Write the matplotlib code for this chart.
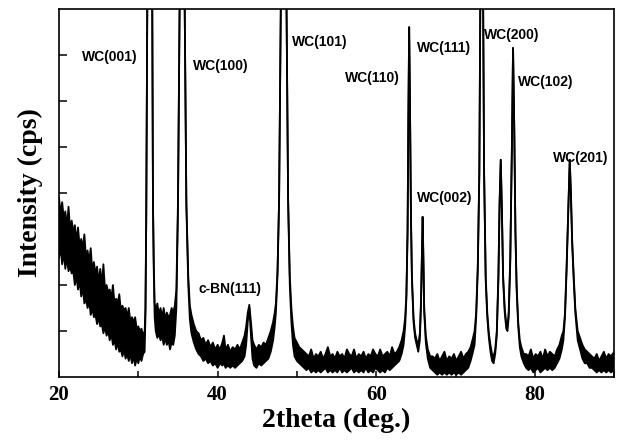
import numpy as np
import matplotlib
matplotlib.use('Agg')
import matplotlib.pyplot as plt


# XRD pattern, in segments (2theta, upper / lower edge of the noisy trace)
# intensity in arbitrary units, axis runs 0..8
theta_a = [20.0, 20.2, 20.4, 20.6, 20.8, 21.0, 21.2, 21.4, 21.6, 21.8,
           22.0, 22.2, 22.4, 22.6, 22.8, 23.0, 23.2, 23.4, 23.6, 23.8,
           24.0, 24.2, 24.4, 24.6, 24.8, 25.0, 25.2, 25.4, 25.6, 25.8,
           26.0, 26.2, 26.4, 26.6, 26.8, 27.0, 27.2, 27.4, 27.6, 27.8,
           28.0, 28.2, 28.4, 28.6, 28.8, 29.0, 29.2, 29.4, 29.6, 29.8,
           30.0, 30.2, 30.4, 30.6, 30.8]
hi_a = [3.9, 3.55, 3.8, 3.45, 3.6, 3.25, 3.7, 3.2, 3.4, 3.15,
        3.3, 2.95, 3.25, 2.85, 3.0, 2.8, 3.1, 2.6, 2.75, 2.5,
        2.8, 2.3, 2.5, 2.25, 2.4, 2.05, 2.35, 2.0, 2.45, 1.9,
        2.0, 1.85, 1.9, 1.7, 2.0, 1.6, 1.7, 1.6, 1.8, 1.45,
        1.55, 1.45, 1.5, 1.3, 1.5, 1.2, 1.3, 1.2, 1.3, 1.05,
        1.1, 1.0, 1.05, 0.9, 1.0]
lo_a = [2.6, 2.8, 2.45, 2.7, 2.35, 2.6, 2.3, 2.4, 2.25, 2.3,
        2.0, 2.2, 1.9, 2.1, 1.75, 1.95, 1.6, 1.7, 1.5, 1.65,
        1.35, 1.5, 1.3, 1.35, 1.15, 1.3, 1.1, 1.15, 0.95, 1.1,
        0.9, 1.0, 0.8, 0.95, 0.7, 0.8, 0.6, 0.75, 0.55, 0.6,
        0.45, 0.6, 0.4, 0.5, 0.35, 0.5, 0.3, 0.45, 0.25, 0.4,
        0.3, 0.45, 0.35, 0.5, 0.55]

# WC(001)
theta_b = [30.9, 31.0, 31.13, 31.3, 31.45, 31.6, 31.76, 31.85, 31.95, 32.06]
hi_b = [1.5, 3.5, 8.0, 14.0, 16.0, 13.0, 8.0, 3.8, 2.5, 1.6]
lo_b = [1.3, 3.4, 8.0, 14.0, 16.0, 13.0, 8.0, 3.7, 2.3, 1.3]

theta_c = [32.2, 32.4, 32.6, 32.8, 33.0, 33.2, 33.4, 33.6, 33.8, 34.0, 34.2, 34.4, 34.6]
hi_c = [1.45, 1.6, 1.35, 1.5, 1.3, 1.5, 1.25, 1.4, 1.3, 1.35, 1.5, 1.4, 1.55]
lo_c = [1.0, 0.85, 0.95, 0.8, 0.9, 0.7, 0.85, 0.7, 0.8, 0.6, 0.75, 0.7, 0.9]

# WC(100)
theta_d = [34.8, 35.0, 35.21, 35.4, 35.53, 35.7, 35.85, 36.06, 36.3, 36.5]
hi_d = [1.9, 3.8, 8.0, 14.0, 16.0, 13.0, 8.0, 3.8, 2.2, 1.55]
lo_d = [1.5, 3.6, 8.0, 14.0, 16.0, 13.0, 8.0, 3.7, 2.0, 1.25]

theta_e = [36.7, 37.0, 37.3, 37.6, 37.9, 38.2, 38.5, 38.8, 39.1, 39.4, 39.7, 40.0,
           40.3, 40.6, 40.8, 41.0, 41.3, 41.6, 41.9, 42.2, 42.5, 42.8, 43.1, 43.4]
hi_e = [1.35, 1.15, 1.0, 0.95, 0.8, 0.85, 0.7, 0.8, 0.65, 0.75, 0.6, 0.7,
        0.6, 0.75, 0.9, 0.6, 0.7, 0.55, 0.65, 0.6, 0.7, 0.6, 0.75, 0.9]
lo_e = [0.95, 0.75, 0.6, 0.5, 0.45, 0.35, 0.4, 0.3, 0.35, 0.25, 0.3, 0.2,
        0.3, 0.25, 0.3, 0.2, 0.25, 0.2, 0.25, 0.2, 0.25, 0.3, 0.35, 0.45]

# c-BN(111)
theta_f = [43.6, 43.8, 44.0, 44.2, 44.4]
hi_f = [1.1, 1.4, 1.57, 1.2, 0.8]
lo_f = [0.7, 1.2, 1.5, 0.9, 0.4]

theta_g = [44.6, 44.9, 45.2, 45.5, 45.8, 46.1, 46.4, 46.7, 47.0, 47.2]
hi_g = [0.7, 0.6, 0.7, 0.65, 0.75, 0.7, 0.85, 1.0, 1.2, 1.4]
lo_g = [0.25, 0.2, 0.3, 0.25, 0.3, 0.35, 0.4, 0.55, 0.8, 1.1]

# WC(101)
theta_h = [47.35, 47.55, 47.75, 47.97, 48.15, 48.33, 48.5, 48.69, 48.89, 49.1, 49.3, 49.5]
hi_h = [1.6, 2.3, 3.85, 8.0, 14.0, 16.0, 14.0, 8.0, 3.85, 2.2, 1.5, 1.1]
lo_h = [1.4, 2.2, 3.8, 8.0, 14.0, 16.0, 14.0, 8.0, 3.8, 2.0, 1.2, 0.7]

theta_i = [49.7, 50.0, 50.3, 50.6, 50.9, 51.2, 51.5, 51.8, 52.1, 52.4,
           52.7, 53.0, 53.3, 53.6, 53.9, 54.2, 54.5, 54.8, 55.1, 55.4,
           55.7, 56.0, 56.3, 56.6, 56.9, 57.2, 57.5, 57.8, 58.1, 58.4,
           58.7, 59.0, 59.3, 59.6, 59.9, 60.2, 60.5, 60.8, 61.1, 61.4,
           61.7, 62.0, 62.3, 62.6, 62.9, 63.2]
hi_i = [0.85, 0.75, 0.65, 0.6, 0.55, 0.5, 0.45, 0.6, 0.4, 0.5,
        0.45, 0.55, 0.4, 0.5, 0.65, 0.45, 0.5, 0.4, 0.55, 0.45,
        0.5, 0.4, 0.6, 0.5, 0.45, 0.6, 0.4, 0.5, 0.45, 0.55,
        0.4, 0.5, 0.45, 0.6, 0.5, 0.45, 0.6, 0.45, 0.5, 0.55,
        0.45, 0.65, 0.5, 0.55, 0.65, 0.8]
lo_i = [0.45, 0.35, 0.3, 0.25, 0.2, 0.15, 0.2, 0.1, 0.15, 0.1,
        0.15, 0.1, 0.15, 0.2, 0.1, 0.15, 0.1, 0.15, 0.1, 0.2,
        0.1, 0.15, 0.1, 0.15, 0.2, 0.1, 0.15, 0.1, 0.15, 0.1,
        0.2, 0.1, 0.15, 0.1, 0.2, 0.15, 0.1, 0.15, 0.1, 0.2,
        0.15, 0.2, 0.25, 0.3, 0.35, 0.5]

# WC(110), WC(002)
theta_j = [63.45, 63.65, 63.8, 63.95, 64.05, 64.15, 64.25, 64.38, 64.5, 64.7,
           64.9, 65.1, 65.3, 65.5, 65.65, 65.75, 65.85, 65.95, 66.05, 66.25,
           66.5, 66.8]
hi_j = [1.0, 1.3, 1.8, 3.2, 5.6, 7.6, 6.0, 3.5, 2.2, 1.3,
        0.95, 0.8, 0.7, 0.95, 1.7, 2.6, 3.48, 2.6, 1.5, 0.9,
        0.6, 0.45]
lo_j = [0.7, 1.1, 1.7, 3.1, 5.6, 7.6, 6.0, 3.4, 2.1, 1.2,
        0.85, 0.7, 0.55, 0.8, 1.6, 2.5, 3.48, 2.5, 1.4, 0.75,
        0.4, 0.2]

theta_k = [67.1, 67.4, 67.7, 68.0, 68.3, 68.6, 68.9, 69.2, 69.5, 69.8,
           70.1, 70.4, 70.7, 71.0, 71.3, 71.6, 71.9, 72.2]
hi_k = [0.45, 0.4, 0.5, 0.35, 0.45, 0.55, 0.35, 0.45, 0.4, 0.5,
        0.35, 0.45, 0.55, 0.4, 0.5, 0.55, 0.65, 0.85]
lo_k = [0.15, 0.1, 0.05, 0.1, 0.05, 0.1, 0.05, 0.1, 0.05, 0.1,
        0.05, 0.1, 0.05, 0.1, 0.15, 0.2, 0.35, 0.55]

# WC(111), WC(200), WC(102)
theta_l = [72.4, 72.6, 72.8, 73.0, 73.15, 73.3, 73.45, 73.6, 73.8, 74.0,
           74.2, 74.4, 74.6, 74.8, 75.0, 75.2, 75.4, 75.55, 75.7, 75.85,
           76.0, 76.2, 76.4, 76.55, 76.7, 76.9, 77.1, 77.25, 77.4, 77.55,
           77.7, 77.9, 78.1, 78.3, 78.6]
hi_l = [1.0, 1.4, 2.4, 4.5, 9.0, 14.0, 9.0, 4.5, 2.2, 1.4,
        0.95, 0.7, 0.5, 0.45, 0.6, 1.0, 2.2, 3.8, 4.72, 3.6,
        2.2, 1.5, 1.15, 1.1, 1.4, 2.6, 5.0, 7.15, 5.5, 3.2,
        2.0, 1.2, 0.8, 0.65, 0.5]
lo_l = [0.7, 1.3, 2.3, 4.4, 9.0, 14.0, 9.0, 4.4, 2.1, 1.3,
        0.85, 0.55, 0.35, 0.3, 0.5, 0.9, 2.1, 3.7, 4.72, 3.5,
        2.1, 1.4, 1.05, 1.0, 1.3, 2.5, 4.9, 7.15, 5.4, 3.1,
        1.9, 1.1, 0.65, 0.45, 0.3]

theta_m = [78.9, 79.2, 79.5, 79.8, 80.1, 80.4, 80.7, 81.0, 81.3, 81.6,
           81.9, 82.2, 82.5, 82.8, 83.1, 83.4]
hi_m = [0.5, 0.45, 0.6, 0.4, 0.5, 0.45, 0.55, 0.4, 0.6, 0.45,
        0.55, 0.5, 0.45, 0.6, 0.7, 0.9]
lo_m = [0.2, 0.15, 0.2, 0.1, 0.15, 0.2, 0.1, 0.15, 0.2, 0.15,
        0.2, 0.15, 0.2, 0.3, 0.4, 0.6]

# WC(201)
theta_n = [83.6, 83.8, 84.0, 84.2, 84.4, 84.55, 84.7, 84.9, 85.1, 85.4,
           85.7, 86.0, 86.3, 86.6, 86.9, 87.2]
hi_n = [1.0, 1.4, 2.4, 3.6, 4.72, 4.0, 3.0, 2.2, 1.5, 1.0,
        0.85, 0.7, 0.6, 0.55, 0.5, 0.45]
lo_n = [0.8, 1.3, 2.3, 3.5, 4.72, 3.9, 2.9, 2.1, 1.4, 0.8,
        0.6, 0.4, 0.3, 0.3, 0.2, 0.2]

theta_o = [87.5, 87.8, 88.1, 88.4, 88.7, 89.0, 89.3, 89.6, 90.0]
hi_o = [0.4, 0.5, 0.35, 0.45, 0.55, 0.4, 0.5, 0.45, 0.55]
lo_o = [0.15, 0.1, 0.15, 0.1, 0.15, 0.1, 0.15, 0.1, 0.15]

# peak labels: text, left edge (deg), vertical centre (a.u.)
label_text = ['WC(001)', 'WC(100)', 'c-BN(111)', 'WC(101)', 'WC(110)',
              'WC(002)', 'WC(111)', 'WC(200)', 'WC(102)', 'WC(201)']
label_x = [22.9, 36.9, 37.6, 49.35, 56.05, 65.13, 65.13, 73.6, 77.9, 82.3]
label_y = [6.96, 6.76, 1.91, 7.28, 6.5, 3.89, 7.15, 7.43, 6.41, 4.76]

x_ticks = [20, 40, 60, 80]


theta = np.concatenate([theta_a, theta_b, theta_c, theta_d, theta_e, theta_f, theta_g,
                        theta_h, theta_i, theta_j, theta_k, theta_l, theta_m, theta_n, theta_o])
upper = np.concatenate([hi_a, hi_b, hi_c, hi_d, hi_e, hi_f, hi_g,
                        hi_h, hi_i, hi_j, hi_k, hi_l, hi_m, hi_n, hi_o])
lower = np.concatenate([lo_a, lo_b, lo_c, lo_d, lo_e, lo_f, lo_g,
                        lo_h, lo_i, lo_j, lo_k, lo_l, lo_m, lo_n, lo_o])

fig = plt.figure(figsize=(6.21, 4.41), dpi=100)
ax = fig.add_axes([0.095, 0.145, 0.894, 0.835])

ax.fill_between(theta, lower, upper, color='black', linewidth=0)
ax.plot(theta, upper, color='black', lw=1.3)
ax.plot(theta, lower, color='black', lw=1.3)

for t, x, y in zip(label_text, label_x, label_y):
    ax.text(x, y, t, ha='left', va='center', fontsize=10, fontweight='bold',
            family='Liberation Sans')

ax.set_xlim(20, 90)
ax.set_ylim(0, 8)
ax.set_xticks(x_ticks)
ax.set_xticks([30, 50, 70, 90], minor=True)
ax.set_yticks([1, 2, 3, 4, 5, 6, 7])
ax.set_yticklabels([])
ax.tick_params(axis='y', direction='in', length=6, width=1.1, left=True, right=False)
ax.tick_params(axis='x', which='both', direction='in', length=4, width=1.1, pad=6,
               top=False)
for lab in ax.get_xticklabels():
    lab.set_family('Liberation Serif')
    lab.set_fontweight('bold')
    lab.set_fontsize(15)
for sp in ax.spines.values():
    sp.set_linewidth(1.2)

ax.set_xlabel('2theta (deg.)', family='Liberation Serif', fontweight='bold',
              fontsize=20, labelpad=2)
ax.set_ylabel('Intensity (cps)', family='Liberation Serif', fontweight='bold',
              fontsize=20, labelpad=8)

plt.savefig('out.png', dpi=100)
